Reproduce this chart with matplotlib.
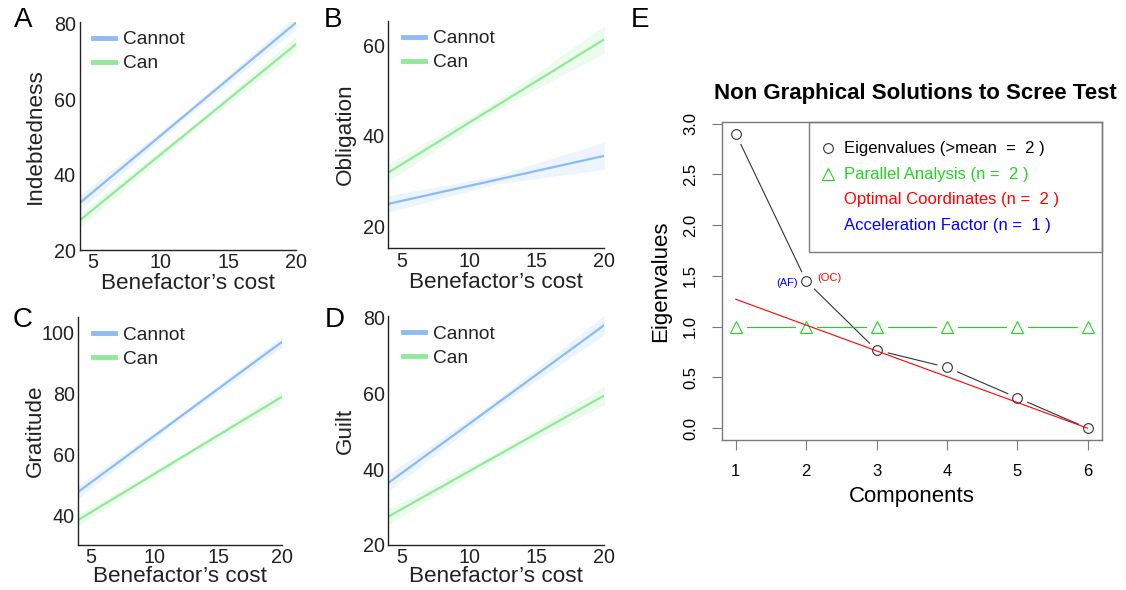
import numpy as np
import matplotlib
matplotlib.use('Agg')
import matplotlib.pyplot as plt
from matplotlib.patches import Rectangle

plt.rcParams['font.family'] = ['Liberation Sans', 'DejaVu Sans']

# ---- regression panels (A-D): fitted values at the ends of the cost range
cost = [4, 20]
ci_x = [4, 12, 20]

ind_cannot = [32.4, 80.2]
ind_can = [27.8, 74.5]
ind_cannot_lo = [30.4, 55.5, 78.4]
ind_cannot_hi = [34.4, 57.1, 82.0]
ind_can_lo = [25.9, 50.4, 72.4]
ind_can_hi = [29.7, 51.9, 76.6]

obl_cannot = [25.0, 35.6]
obl_can = [31.9, 61.3]
obl_cannot_lo = [23.2, 29.4, 32.6]
obl_cannot_hi = [26.8, 31.2, 38.6]
obl_can_lo = [30.0, 45.6, 58.3]
obl_can_hi = [33.8, 47.6, 64.3]

gra_cannot = [47.9, 96.8]
gra_can = [38.7, 78.9]
gra_cannot_lo = [45.8, 71.5, 95.0]
gra_cannot_hi = [50.0, 73.2, 98.6]
gra_can_lo = [36.8, 58.0, 76.9]
gra_can_hi = [40.6, 59.6, 80.9]

gui_cannot = [36.4, 78.1]
gui_can = [27.5, 59.5]
gui_cannot_lo = [34.2, 56.2, 75.5]
gui_cannot_hi = [38.6, 58.3, 80.7]
gui_can_lo = [25.4, 42.6, 57.0]
gui_can_hi = [29.6, 44.4, 62.0]

# ---- scree test panel (E)
components = [1, 2, 3, 4, 5, 6]
eigenvalues = [2.9, 1.45, 0.77, 0.6, 0.3, 0.0]
parallel = [1.0, 1.0, 1.0, 1.0, 1.0, 1.0]
oc_x = [1, 6]
oc_y = [1.27, 0.0]
legend_labels = ['Eigenvalues (>mean  =  2 )', 'Parallel Analysis (n =  2 )',
                 'Optimal Coordinates (n =  2 )', 'Acceleration Factor (n =  1 )']

BLUE = '#8cbcf5'
GREEN = '#90ea98'
DARK = '#222222'

fig = plt.figure(figsize=(11.26, 5.90), dpi=100)

W, H = 1126, 590


def px_axes(left, top, right, bottom):
    return fig.add_axes([left / W, 1 - bottom / H, (right - left) / W, (bottom - top) / H])


def reg_panel(ax, cannot, can, c_lo, c_hi, g_lo, g_hi, ylim, yticks, ylabel,
              ylab_x, xlab_y, leg_x):
    ax.fill_between(ci_x, c_lo, c_hi, color=BLUE, alpha=0.16, lw=0)
    ax.fill_between(ci_x, g_lo, g_hi, color=GREEN, alpha=0.16, lw=0)
    ax.plot(cost, cannot, color=BLUE, lw=1.6, label='Cannot')
    ax.plot(cost, can, color=GREEN, lw=1.6, label='Can')
    ax.set_xlim(4, 20)
    ax.set_ylim(*ylim)
    ax.set_xticks([5, 10, 15, 20])
    ax.set_yticks(yticks)
    for s in ['top', 'right']:
        ax.spines[s].set_visible(False)
    for s in ['left', 'bottom']:
        ax.spines[s].set_color(DARK)
        ax.spines[s].set_linewidth(1.0)
    ax.tick_params(length=0, labelsize=14.2, colors=DARK, pad=2.5)
    ax.set_ylabel(ylabel, fontsize=16.2, color=DARK, va='center')
    ax.yaxis.set_label_coords(ylab_x, 0.5)
    ax.set_xlabel('Benefactor\u2019s cost', fontsize=16.2, color=DARK, va='center')
    ax.xaxis.set_label_coords(0.5, xlab_y)
    leg = ax.legend(loc='upper left', bbox_to_anchor=(leg_x, 0.96), frameon=False,
                    fontsize=13.8, handlelength=1.15, handletextpad=0.4,
                    labelspacing=0.35, borderpad=0, borderaxespad=0)
    for h in leg.get_lines():
        h.set_linewidth(3.5)
    for t in leg.get_texts():
        t.set_color(DARK)


axA = px_axes(79.5, 21.7, 295.8, 250)
reg_panel(axA, ind_cannot, ind_can, ind_cannot_lo, ind_cannot_hi, ind_can_lo, ind_can_hi,
          (20, 80.5), [20, 40, 60, 80], 'Indebtedness', -0.206, -0.145, 0.062)

axB = px_axes(388.3, 20.7, 604.3, 248.3)
reg_panel(axB, obl_cannot, obl_can, obl_cannot_lo, obl_cannot_hi, obl_can_lo, obl_can_hi,
          (15.2, 65.4), [20, 40, 60], 'Obligation', -0.2, -0.152, 0.068)

axC = px_axes(78.3, 317, 281.7, 545)
reg_panel(axC, gra_cannot, gra_can, gra_cannot_lo, gra_cannot_hi, gra_can_lo, gra_can_hi,
          (30.5, 105), [40, 60, 80, 100], 'Gratitude', -0.213, -0.139, 0.072)

axD = px_axes(388.3, 316, 604.3, 545)
reg_panel(axD, gui_cannot, gui_can, gui_cannot_lo, gui_cannot_hi, gui_can_lo, gui_can_hi,
          (20, 80.5), [20, 40, 60, 80], 'Guilt', -0.2, -0.139, 0.068)

for letter, x, y in [('A', 23, 20), ('B', 333, 20), ('C', 23, 320), ('D', 335, 320), ('E', 640, 20)]:
    fig.text(x / W, 1 - y / H, letter, fontsize=20, ha='center', va='center', color='black')

# ---- panel E
axE = px_axes(721.7, 122, 1101.7, 440)
PGREEN = '#22d422'
GRAY = '#7a7a7a'
axE.plot(components, eigenvalues, color='#333333', lw=0.8, zorder=2)
axE.plot(components, parallel, color=PGREEN, lw=0.8, zorder=2)
# white gaps around the points, like R's type = "b"
axE.plot(components, eigenvalues, 'o', ms=14, color='white', mec='white', zorder=2.1)
axE.plot(components, parallel, 'o', ms=14, color='white', mec='white', zorder=2.1)
axE.plot(components, eigenvalues, 'o', ms=7, mfc='none', mec='#333333', mew=0.8, zorder=3)
axE.plot(components, parallel, '^', ms=8, mfc='none', mec=PGREEN, mew=0.8, zorder=3)
axE.plot(oc_x, oc_y, color='red', lw=0.8, zorder=3.5)

axE.set_xlim(0.8, 6.2)
axE.set_ylim(-0.116, 3.016)
axE.set_xticks(components)
axE.set_yticks([0.0, 0.5, 1.0, 1.5, 2.0, 2.5, 3.0])
axE.set_yticklabels(['0.0', '0.5', '1.0', '1.5', '2.0', '2.5', '3.0'], rotation=90, va='center')
axE.tick_params(length=7, width=0.8, color=GRAY, labelsize=12, pad=10)
for s in axE.spines.values():
    s.set_color(GRAY)
    s.set_linewidth(1.0)
axE.set_xlabel('Components', fontsize=16, va='center')
axE.xaxis.set_label_coords(0.5, -0.179)
axE.set_ylabel('Eigenvalues', fontsize=16, va='center')
axE.yaxis.set_label_coords(-0.162, 0.5)
axE.text(0.51, 1.091, 'Non Graphical Solutions to Scree Test', transform=axE.transAxes,
         ha='center', va='center', fontsize=16, fontweight='bold')

axE.annotate('(AF)', xy=(components[1], eigenvalues[1]), xytext=(-13.7, -1.4),
             textcoords='offset points', ha='center', va='center', fontsize=8, color='blue')
axE.annotate('(OC)', xy=(components[1], eigenvalues[1]), xytext=(17, 2.2),
             textcoords='offset points', ha='center', va='center', fontsize=8, color='red')

# legend box
axE.add_patch(Rectangle((0.2297, 0.591), 0.7703, 0.409, transform=axE.transAxes,
                        fill=False, edgecolor=GRAY, lw=1.0, zorder=4, clip_on=False))
row_y = [0.918, 0.836, 0.755, 0.673]
row_col = ['black', PGREEN, 'red', 'blue']
axE.plot([0.28], [row_y[0]], 'o', ms=7, mfc='none', mec='#333333', mew=0.8,
         transform=axE.transAxes, zorder=5)
axE.plot([0.28], [row_y[1]], '^', ms=8, mfc='none', mec=PGREEN, mew=0.8,
         transform=axE.transAxes, zorder=5)
for lab, yy, col in zip(legend_labels, row_y, row_col):
    axE.text(0.322, yy, lab, transform=axE.transAxes, ha='left', va='center',
             fontsize=12, color=col)

fig.savefig('out.png', dpi=100)
